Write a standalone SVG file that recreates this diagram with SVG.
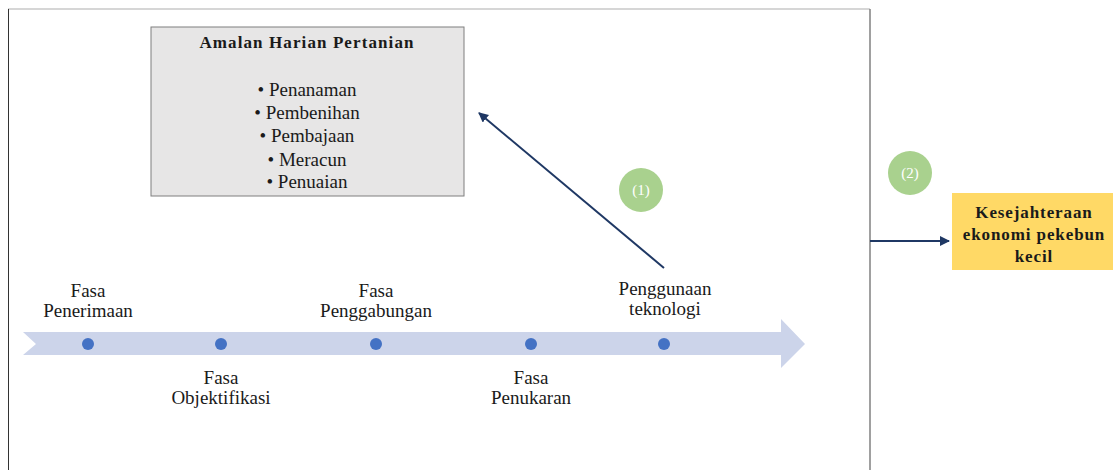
<svg xmlns="http://www.w3.org/2000/svg" width="1113" height="470" viewBox="0 0 1113 470" font-family="Liberation Serif, Times New Roman, serif">
<style>
.t{fill:#1a1a1a;text-anchor:middle}
.lab{font-size:19px}
.list{font-size:19px}
.b{font-weight:bold}
.num{font-size:15px;fill:#ffffff;text-anchor:middle}
.dot{fill:#4472C4}
.conn{stroke:#1F3864;stroke-width:2;fill:none}
</style>
<defs>
<marker id="ah" viewBox="0 0 10 10" refX="9" refY="5" markerWidth="5" markerHeight="5" orient="auto" markerUnits="strokeWidth">
<path d="M0,0 L10,5 L0,10 z" fill="#1F3864"/>
</marker>
</defs>
<rect width="1113" height="470" fill="#ffffff"/>
<g id="frame">
<line x1="8" y1="9" x2="870" y2="9" stroke="#c8c8c8" stroke-width="1.5"/>
<line x1="8.5" y1="9" x2="8.5" y2="470" stroke="#333333" stroke-width="1"/>
<line x1="870" y1="9" x2="870" y2="470" stroke="#808080" stroke-width="1.5"/>
</g>
<g id="timeline">
<path d="M23,332 L781,332 L781,319 L805,344 L781,368 L781,355 L23,355 L36,344 Z" fill="#CCD4EA"/>
</g>
<g id="amalan" font-family="Liberation Serif, serif">
<rect x="151" y="27" width="313" height="169" fill="#E7E6E6" stroke="#7F7F7F" stroke-width="1"/>
<text class="t b" x="307" y="48" font-size="17" letter-spacing="1.1">Amalan Harian Pertanian</text>
<text class="t list" x="307" y="96">• Penanaman</text>
<text class="t list" x="307" y="119">• Pembenihan</text>
<text class="t list" x="307" y="142">• Pembajaan</text>
<text class="t list" x="307" y="166">• Meracun</text>
<text class="t list" x="307" y="188">• Penuaian</text>
</g>
<g id="p1" font-family="Liberation Serif, serif">
<circle class="dot" cx="88" cy="344" r="6"/>
<text class="t lab" x="88" y="297">Fasa</text>
<text class="t lab" x="88" y="317">Penerimaan</text>
</g>
<g id="p2" font-family="Liberation Serif, serif">
<circle class="dot" cx="221" cy="344" r="6"/>
<text class="t lab" x="221" y="384">Fasa</text>
<text class="t lab" x="221" y="404">Objektifikasi</text>
</g>
<g id="p3" font-family="Liberation Serif, serif">
<circle class="dot" cx="376" cy="344" r="6"/>
<text class="t lab" x="376" y="297">Fasa</text>
<text class="t lab" x="376" y="317">Penggabungan</text>
</g>
<g id="p4" font-family="Liberation Serif, serif">
<circle class="dot" cx="531" cy="344" r="6"/>
<text class="t lab" x="531" y="384">Fasa</text>
<text class="t lab" x="531" y="404">Penukaran</text>
</g>
<g id="p5" font-family="Liberation Serif, serif">
<circle class="dot" cx="664" cy="344" r="6"/>
<text class="t lab" x="665" y="295">Penggunaan</text>
<text class="t lab" x="665" y="315">teknologi</text>
</g>
<g id="badge1" font-family="Liberation Serif, serif">
<circle cx="641" cy="190" r="22" fill="#A9D18E"/>
<text class="num" x="641" y="195">(1)</text>
</g>
<g id="badge2" font-family="Liberation Serif, serif">
<circle cx="910" cy="173" r="22" fill="#A9D18E"/>
<text class="num" x="910" y="178">(2)</text>
</g>
<g id="kesejahteraan" font-family="Liberation Serif, serif">
<rect x="952" y="193" width="165" height="77" fill="#FFD966"/>
<text class="t b" x="1034" y="218" font-size="17" letter-spacing="0.9">Kesejahteraan</text>
<text class="t b" x="1034" y="240" font-size="17" letter-spacing="0.9">ekonomi pekebun</text>
<text class="t b" x="1034" y="262" font-size="17" letter-spacing="0.9">kecil</text>
</g>
<g id="connectors">
<line class="conn" x1="664" y1="268" x2="479" y2="113" marker-end="url(#ah)"/>
<line class="conn" x1="870" y1="241" x2="949" y2="241" marker-end="url(#ah)"/>
</g>
</svg>
